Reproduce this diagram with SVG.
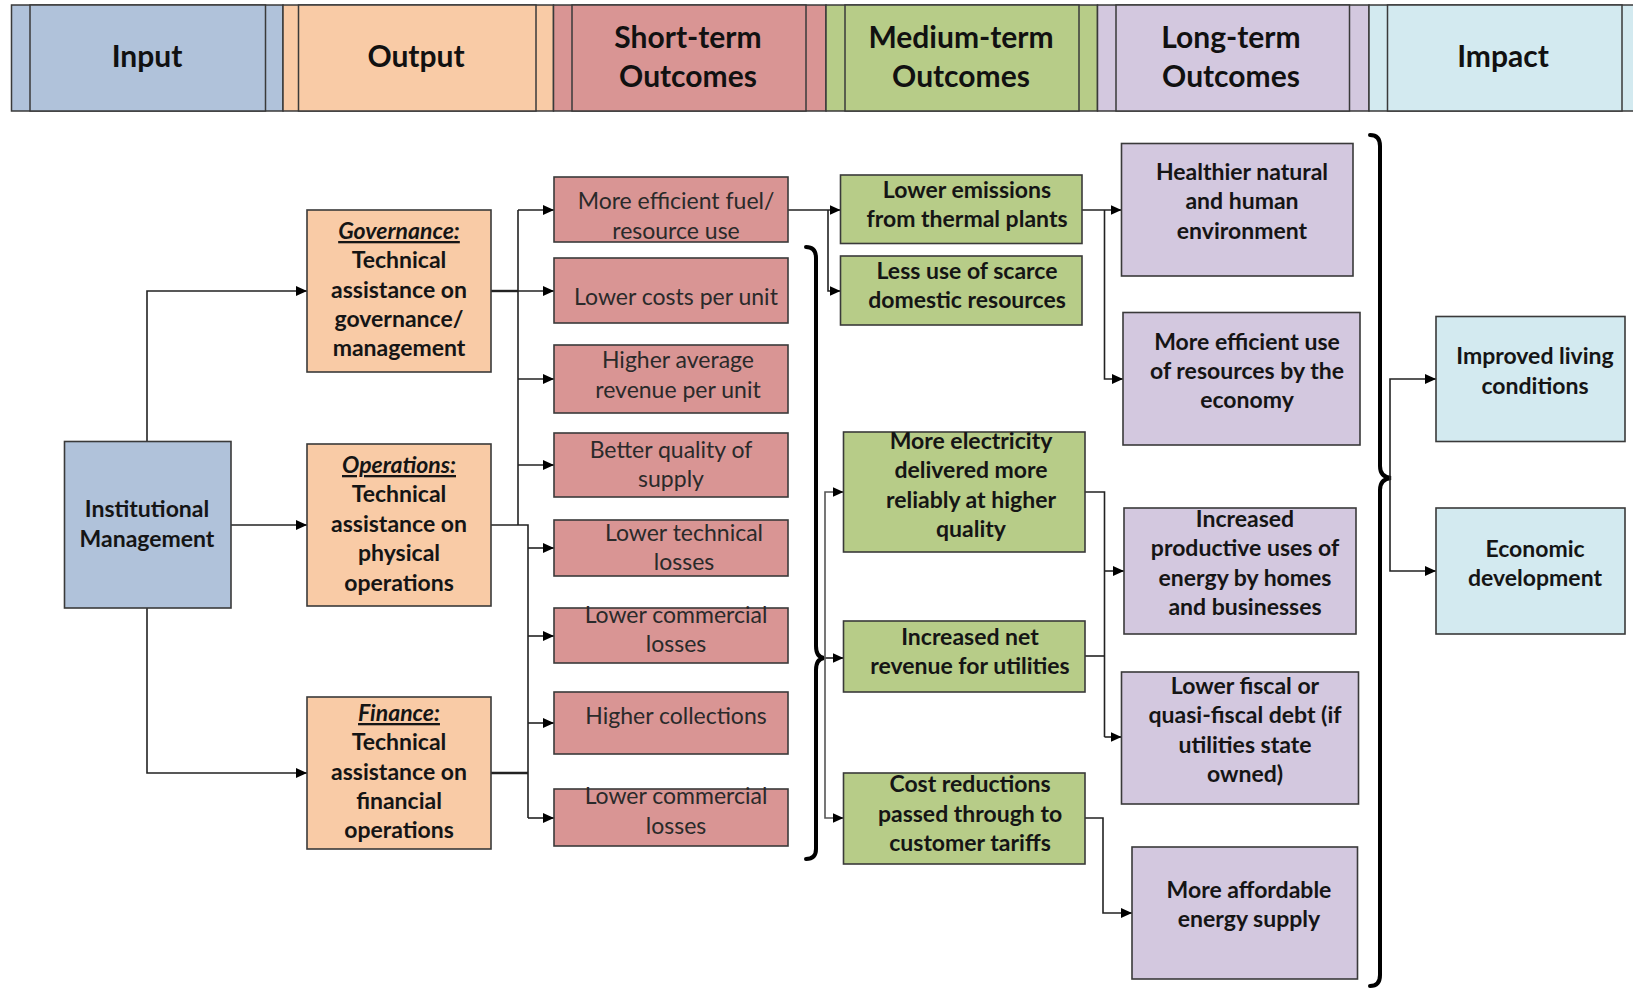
<svg xmlns="http://www.w3.org/2000/svg" width="1633" height="988" viewBox="0 0 1633 988">
<defs>
<style>
.hd{stroke:#3a3a3a;stroke-width:1.5}
.bx{stroke:#3a3a3a;stroke-width:1.6}
.ht{font-family:Lato,"Open Sans",sans-serif;font-weight:700;font-size:30px;fill:#111;text-anchor:middle}
.bt{font-family:Lato,"Open Sans",sans-serif;font-weight:700;font-size:23px;fill:#151515;text-anchor:middle}
.rt{font-family:Lato,"Open Sans",sans-serif;font-weight:400;font-size:23px;fill:#2a2a2a;text-anchor:middle}
.cat{font-style:italic;text-decoration:underline}
.blue{fill:#B0C2DA}.peach{fill:#F9CBA6}.rose{fill:#D99594}.green{fill:#B7CC88}.lav{fill:#D3C8DF}.cyan{fill:#D3EAF0}
.ln{fill:none;stroke:#222;stroke-width:1.6}
.ar{fill:none;stroke:#222;stroke-width:1.6;marker-end:url(#ah)}
.br{fill:none;stroke:#000;stroke-width:4;stroke-linecap:round}
</style>
<marker id="ah" markerWidth="11" markerHeight="10" refX="11" refY="5" orient="auto" markerUnits="userSpaceOnUse">
<path d="M0,0 L11,5 L0,10 Z" fill="#000"/>
</marker>
</defs>
<rect width="1633" height="988" fill="#fff"/>

<g id="header">
<g id="h-input"><rect class="hd blue" x="11.5" y="5" width="271.5" height="106"/><rect class="hd blue" x="30" y="5" width="235.5" height="106"/><text class="ht" x="147" y="67">Input</text></g>
<g id="h-output"><rect class="hd peach" x="283" y="5" width="270.5" height="106"/><rect class="hd peach" x="298.5" y="5" width="237.5" height="106"/><text class="ht" x="416" y="67">Output</text></g>
<g id="h-short"><rect class="hd rose" x="553.5" y="5" width="272.5" height="106"/><rect class="hd rose" x="572" y="5" width="234" height="106"/><text class="ht" x="688" y="48">Short-term</text><text class="ht" x="688" y="87">Outcomes</text></g>
<g id="h-medium"><rect class="hd green" x="826" y="5" width="271.5" height="106"/><rect class="hd green" x="845" y="5" width="234" height="106"/><text class="ht" x="961" y="48">Medium-term</text><text class="ht" x="961" y="87">Outcomes</text></g>
<g id="h-long"><rect class="hd lav" x="1097.5" y="5" width="271.5" height="106"/><rect class="hd lav" x="1116" y="5" width="233.5" height="106"/><text class="ht" x="1231" y="48">Long-term</text><text class="ht" x="1231" y="87">Outcomes</text></g>
<g id="h-impact"><rect class="hd cyan" x="1369" y="5" width="280" height="106"/><rect class="hd cyan" x="1387.5" y="5" width="234.5" height="106"/><text class="ht" x="1503" y="67">Impact</text></g>
</g>

<g id="connectors">
<path class="ar" d="M147,441.5 V291 H307"/>
<path class="ar" d="M231,525 H307"/>
<path class="ar" d="M147,608 V773 H307"/>
<path class="ln" d="M491,291 H518" style="stroke-width:2.4"/>
<path class="ln" d="M518,210 V525"/>
<path class="ar" d="M518,210 H554"/>
<path class="ar" d="M518,291 H554"/>
<path class="ar" d="M518,379 H554"/>
<path class="ar" d="M518,465 H554"/>
<path class="ln" d="M491,525 H528 V818"/>
<path class="ln" d="M491,773 H528" style="stroke-width:2.4"/>
<path class="ar" d="M528,548 H554"/>
<path class="ar" d="M528,636 H554"/>
<path class="ar" d="M528,723 H554"/>
<path class="ar" d="M528,818 H554"/>
<path class="ar" d="M788,210 H840.5"/>
<path class="ar" d="M828,210 V291 H840.5"/>
<path class="br" d="M806,247 Q816,247 816,258 V646 Q816,657 824,658 Q816,659 816,670 V849 Q816,859 806,859"/>
<path class="ar" d="M824,658 H843.5"/>
<path class="ar" d="M825,658 V492 H843.5" style="stroke:#555"/>
<path class="ar" d="M825,658 V818 H843.5" style="stroke:#555"/>
<path class="ar" d="M1082,210 H1121.5"/>
<path class="ar" d="M1104.5,210 V379 H1123"/>
<path class="ln" d="M1085,492 H1104.5 V737"/>
<path class="ar" d="M1104.5,571 H1124"/>
<path class="ar" d="M1104.5,737 H1121.5"/>
<path class="ln" d="M1085,656 H1104.5"/>
<path class="ar" d="M1085,818 H1103 V913 H1132"/>
<path class="br" d="M1370,135 Q1380,135 1380,146 V466 Q1380,477 1391,478 Q1380,479 1380,490 V975 Q1380,986 1370,986"/>
<path class="ar" d="M1390,478 V379 H1436"/>
<path class="ar" d="M1390,478 V571 H1436"/>
</g>

<g id="n-institutional"><rect class="bx blue" x="64.5" y="441.5" width="166.5" height="166.5"/><text class="bt" x="147" y="517">Institutional</text><text class="bt" x="147" y="547">Management</text></g>

<g id="n-governance"><rect class="bx peach" x="307" y="210" width="184" height="162"/>
<text class="bt cat" x="399" y="239">Governance:</text><text class="bt" x="399" y="268">Technical</text><text class="bt" x="399" y="298">assistance on</text><text class="bt" x="399" y="327">governance/</text><text class="bt" x="399" y="356">management</text></g>
<g id="n-operations"><rect class="bx peach" x="307" y="444" width="184" height="162"/>
<text class="bt cat" x="399" y="473">Operations:</text><text class="bt" x="399" y="502">Technical</text><text class="bt" x="399" y="532">assistance on</text><text class="bt" x="399" y="561">physical</text><text class="bt" x="399" y="591">operations</text></g>
<g id="n-finance"><rect class="bx peach" x="307" y="697" width="184" height="152"/>
<text class="bt cat" x="399" y="721">Finance:</text><text class="bt" x="399" y="750">Technical</text><text class="bt" x="399" y="780">assistance on</text><text class="bt" x="399" y="809">financial</text><text class="bt" x="399" y="838">operations</text></g>

<g id="n-s1"><rect class="bx rose" x="554" y="177" width="234" height="65"/><text class="rt" x="676" y="209">More efficient fuel/</text><text class="rt" x="676" y="239">resource use</text></g>
<g id="n-s2"><rect class="bx rose" x="554" y="258" width="234" height="65"/><text class="rt" x="676" y="305">Lower costs per unit</text></g>
<g id="n-s3"><rect class="bx rose" x="554" y="345" width="234" height="68"/><text class="rt" x="678" y="368">Higher average</text><text class="rt" x="678" y="398">revenue per unit</text></g>
<g id="n-s4"><rect class="bx rose" x="554" y="433" width="234" height="64"/><text class="rt" x="671" y="458">Better quality of</text><text class="rt" x="671" y="487">supply</text></g>
<g id="n-s5"><rect class="bx rose" x="554" y="520" width="234" height="56"/><text class="rt" x="684" y="541">Lower technical</text><text class="rt" x="684" y="570">losses</text></g>
<g id="n-s6"><rect class="bx rose" x="554" y="608" width="234" height="55"/><text class="rt" x="676" y="623">Lower commercial</text><text class="rt" x="676" y="652">losses</text></g>
<g id="n-s7"><rect class="bx rose" x="554" y="692" width="234" height="62"/><text class="rt" x="676" y="724">Higher collections</text></g>
<g id="n-s8"><rect class="bx rose" x="554" y="789" width="234" height="57"/><text class="rt" x="676" y="804">Lower commercial</text><text class="rt" x="676" y="834">losses</text></g>

<g id="n-m1"><rect class="bx green" x="840.5" y="175" width="241.5" height="68.5"/><text class="bt" x="967" y="198">Lower emissions</text><text class="bt" x="967" y="227">from thermal plants</text></g>
<g id="n-m2"><rect class="bx green" x="840.5" y="256" width="241.5" height="69"/><text class="bt" x="967" y="279">Less use of scarce</text><text class="bt" x="967" y="308">domestic resources</text></g>
<g id="n-m3"><rect class="bx green" x="843.5" y="432" width="241.5" height="120"/><text class="bt" x="971" y="449">More electricity</text><text class="bt" x="971" y="478">delivered more</text><text class="bt" x="971" y="508">reliably at higher</text><text class="bt" x="971" y="537">quality</text></g>
<g id="n-m4"><rect class="bx green" x="843.5" y="621" width="241.5" height="71"/><text class="bt" x="970" y="645">Increased net</text><text class="bt" x="970" y="674">revenue for utilities</text></g>
<g id="n-m5"><rect class="bx green" x="843.5" y="773" width="241.5" height="91"/><text class="bt" x="970" y="792">Cost reductions</text><text class="bt" x="970" y="822">passed through to</text><text class="bt" x="970" y="851">customer tariffs</text></g>

<g id="n-l1"><rect class="bx lav" x="1121.5" y="143.5" width="231.5" height="132.5"/><text class="bt" x="1242" y="180">Healthier natural</text><text class="bt" x="1242" y="209">and human</text><text class="bt" x="1242" y="239">environment</text></g>
<g id="n-l2"><rect class="bx lav" x="1123" y="312.5" width="237" height="132.5"/><text class="bt" x="1247" y="350">More efficient use</text><text class="bt" x="1247" y="379">of resources by the</text><text class="bt" x="1247" y="408">economy</text></g>
<g id="n-l3"><rect class="bx lav" x="1124" y="508" width="232" height="126"/><text class="bt" x="1245" y="527">Increased</text><text class="bt" x="1245" y="556">productive uses of</text><text class="bt" x="1245" y="586">energy by homes</text><text class="bt" x="1245" y="615">and businesses</text></g>
<g id="n-l4"><rect class="bx lav" x="1121.5" y="672" width="237" height="132"/><text class="bt" x="1245" y="694">Lower fiscal or</text><text class="bt" x="1245" y="723">quasi-fiscal debt (if</text><text class="bt" x="1245" y="753">utilities state</text><text class="bt" x="1245" y="782">owned)</text></g>
<g id="n-l5"><rect class="bx lav" x="1132" y="847" width="225.5" height="132"/><text class="bt" x="1249" y="898">More affordable</text><text class="bt" x="1249" y="927">energy supply</text></g>

<g id="n-i1"><rect class="bx cyan" x="1436" y="316.5" width="189" height="125"/><text class="bt" x="1535" y="364">Improved living</text><text class="bt" x="1535" y="394">conditions</text></g>
<g id="n-i2"><rect class="bx cyan" x="1436" y="508" width="189" height="126"/><text class="bt" x="1535" y="557">Economic</text><text class="bt" x="1535" y="586">development</text></g>
</svg>
